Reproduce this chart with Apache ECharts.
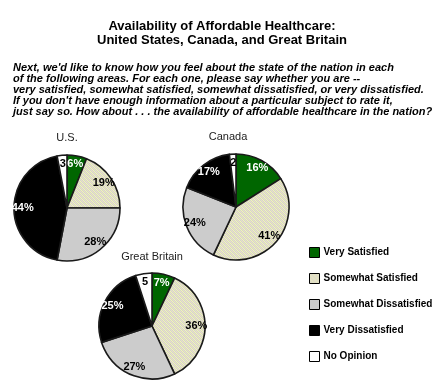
<!DOCTYPE html>
<html><head><meta charset="utf-8">
<script src="https://cdn.jsdelivr.net/npm/echarts@6/dist/echarts.min.js"></script>
<style>html,body{margin:0;padding:0;background:#fff}#c{width:440px;height:385px}</style>
</head><body><div id="c"></div>
<script>
const categories = ['Very Satisfied', 'Somewhat Satisfied', 'Somewhat Dissatisfied', 'Very Dissatisfied', 'No Opinion'];
const usValues = [6, 19, 28, 44, 3];
const canadaValues = [16, 41, 24, 17, 2];
const britainValues = [7, 36, 27, 25, 5];
const countries = ['U.S.', 'Canada', 'Great Britain'];

const FONT = '"Liberation Sans", Arial, sans-serif';

// hatched pattern for "Somewhat Satisfied"
const pc = document.createElement('canvas');
pc.width = 4; pc.height = 4;
const g = pc.getContext('2d');
g.fillStyle = '#f4f0bc'; g.fillRect(0, 0, 4, 4);
g.fillStyle = '#d4dcc4';
for (let i = 0; i < 4; i++) { g.fillRect(i, i, 1, 1); g.fillRect((i + 2) % 4, i, 1, 1); }
g.fillStyle = '#ecd8d0';
for (let i = 0; i < 4; i++) { g.fillRect((i + 1) % 4, i, 1, 1); }
const hatch = { image: pc, repeat: 'repeat' };

const sliceColors = ['#006600', hatch, '#cccccc', '#000000', '#ffffff'];
const labelColors = ['#ffffff', '#000000', '#000000', '#ffffff', '#000000'];

const R = 53;
const centers = [[67, 208], [236, 207], [152, 326]];
const allValues = [usValues, canadaValues, britainValues];

function pieData(vals) {
  return vals.map((v, i) => ({ name: categories[i], value: v, itemStyle: { color: sliceColors[i] } }));
}
function labelData(vals) {
  return vals.map((v, i) => ({ name: categories[i], value: v,
    label: { color: labelColors[i] } }));
}

const series = [];
allValues.forEach((vals, k) => {
  series.push({
    type: 'pie', center: centers[k], radius: [0, R], startAngle: 90, clockwise: true,
    silent: true, animation: false,
    itemStyle: { borderColor: '#1a1a1a', borderWidth: 1.6 },
    label: { show: false }, labelLine: { show: false },
    data: pieData(vals)
  });
});
allValues.forEach((vals, k) => {
  series.push({
    type: 'pie', center: centers[k], radius: [R * 0.56, R], startAngle: 90, clockwise: true,
    silent: true, animation: false, avoidLabelOverlap: false,
    itemStyle: { color: 'rgba(0,0,0,0)', borderWidth: 0 },
    label: { show: true, position: 'inside', fontFamily: FONT, fontWeight: 'bold', fontSize: 11,
      formatter: p => p.dataIndex === 4 ? String(p.value) : p.value + '%' },
    labelLine: { show: false },
    data: labelData(vals)
  });
});

const titleCenters = [[67, 132], [228, 131], [152, 251]];
const titles = [
  { text: 'Availability of Affordable Healthcare:\nUnited States, Canada, and Great Britain', left: 217, top: 14, textAlign: 'center',
    textStyle: { fontFamily: FONT, fontWeight: 'bold', fontSize: 13, lineHeight: 14.5, color: '#000' } },
  { text: "Next, we'd like to know how you feel about the state of the nation in each\nof the following areas. For each one, please say whether you are --\nvery satisfied, somewhat satisfied, somewhat dissatisfied, or very dissatisfied.\nIf you don't have enough information about a particular subject to rate it,\njust say so. How about . . . the availability of affordable healthcare in the nation?",
    left: 8, top: 57, textStyle: { fontFamily: FONT, fontWeight: 'bold', fontStyle: 'italic', fontSize: 11, lineHeight: 11, color: '#000' } }
];
countries.forEach((c, k) => titles.push({ text: c, left: titleCenters[k][0], top: titleCenters[k][1], textAlign: 'center',
  padding: 0, textStyle: { fontFamily: FONT, fontWeight: 'normal', fontSize: 11, color: '#222' } }));

const chart = echarts.init(document.getElementById('c'), null, { renderer: 'canvas' });
chart.setOption({
  backgroundColor: '#fff',
  animation: false,
  title: titles,
  legend: {
    orient: 'vertical', left: 304, top: 242, itemWidth: 10, itemHeight: 10, itemGap: 15,
    data: categories, selectedMode: false,
    itemStyle: { borderColor: '#000', borderWidth: 1 },
    textStyle: { fontFamily: FONT, fontWeight: 'bold', fontSize: 10, color: '#000', padding: [0, 0, 0, -1] },
    icon: 'rect'
  },
  series: series
});
</script></body></html>
